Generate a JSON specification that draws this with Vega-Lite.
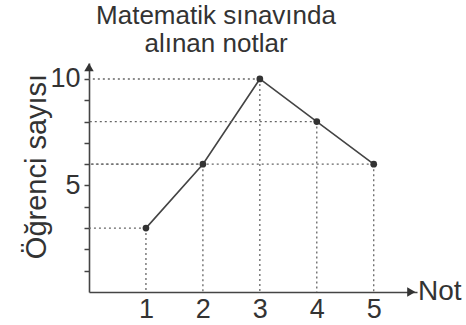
{
  "$schema": "https://vega.github.io/schema/vega-lite/v6.json",
  "autosize": {"type": "none"},
  "width": 328,
  "height": 229,
  "padding": {"left": 89, "top": 63, "right": 49, "bottom": 33},
  "background": "white",
  "config": {
    "font": "Liberation Sans",
    "view": {"stroke": null}
  },
  "title": {
    "text": ["Matematik sınavında", "alınan notlar"],
    "fontSize": 26,
    "fontWeight": "normal",
    "color": "#333333",
    "anchor": "middle",
    "dx": -37,
    "lineHeight": 28,
    "offset": 6
  },
  "data": {
    "values": [
      {"not": 1, "count": 3},
      {"not": 2, "count": 6},
      {"not": 3, "count": 10},
      {"not": 4, "count": 8},
      {"not": 5, "count": 6}
    ]
  },
  "layer": [
    {
      "mark": {"type": "line", "color": "#444444", "strokeWidth": 1.6},
      "encoding": {
        "x": {"field": "not", "type": "quantitative",
          "scale": {"domain": [0, 5.76], "nice": false, "zero": false},
          "axis": {
            "values": [1, 2, 3, 4, 5],
            "tickCount": 20,
            "format": "d",
            "ticks": false,
            "grid": false,
            "domainColor": "#444444",
            "domainWidth": 1.6,
            "labelFontSize": 27,
            "labelColor": "#333333",
            "labelPadding": 4,
            "labelOverlap": false,
            "labelFlush": false,
            "title": null
          }
        },
        "y": {"field": "count", "type": "quantitative",
          "scale": {"domain": [0, 10.75], "nice": false, "zero": false},
          "axis": {
            "values": [1, 2, 3, 4, 5, 6, 7, 8, 9, 10],
            "tickCount": 20,
            "format": "d",
            "labelExpr": "datum.value == 5 || datum.value == 10 ? datum.label : ''",
            "grid": false,
            "tickSize": 5,
            "tickColor": "#444444",
            "tickWidth": 1.5,
            "domainColor": "#444444",
            "domainWidth": 1.6,
            "labelFontSize": 27,
            "labelColor": "#333333",
            "labelPadding": 4,
            "labelBaseline": "middle",
            "labelOverlap": false,
            "labelFlush": false,
            "labelBound": false,
            "title": "Öğrenci sayısı",
            "titleFontSize": 29,
            "titleFontWeight": "normal",
            "titleColor": "#333333",
            "titleAngle": -90,
            "titleBaseline": "alphabetic",
            "titleX": -44,
            "titleY": 103,
            "titleAlign": "center"
          }
        }
      }
    },
    {
      "mark": {"type": "rule", "strokeDash": [2, 3], "color": "#666666", "strokeWidth": 1.3},
      "encoding": {
        "x": {"field": "not", "type": "quantitative"},
        "x2": {"datum": 0},
        "y": {"field": "count", "type": "quantitative"}
      }
    },
    {
      "mark": {"type": "rule", "strokeDash": [2, 3], "color": "#666666", "strokeWidth": 1.3},
      "encoding": {
        "x": {"field": "not", "type": "quantitative"},
        "y": {"field": "count", "type": "quantitative"},
        "y2": {"datum": 0}
      }
    },
    {
      "mark": {"type": "point", "filled": true, "color": "#333333", "size": 45, "opacity": 1},
      "encoding": {
        "x": {"field": "not", "type": "quantitative"},
        "y": {"field": "count", "type": "quantitative"}
      }
    },
    {
      "data": {"values": [{}]},
      "mark": {"type": "point", "shape": "triangle-right", "filled": true, "color": "#333333", "size": 90, "opacity": 1},
      "encoding": {
        "x": {"datum": 5.66, "type": "quantitative"},
        "y": {"datum": 0, "type": "quantitative"}
      }
    },
    {
      "data": {"values": [{}]},
      "mark": {"type": "point", "shape": "triangle-up", "filled": true, "color": "#333333", "size": 90, "opacity": 1},
      "encoding": {
        "x": {"datum": 0, "type": "quantitative"},
        "y": {"datum": 10.55, "type": "quantitative"}
      }
    },
    {
      "data": {"values": [{}]},
      "mark": {"type": "text", "align": "left", "baseline": "middle", "fontSize": 28, "color": "#333333", "dx": 1},
      "encoding": {
        "x": {"datum": 5.76, "type": "quantitative"},
        "y": {"datum": 0, "type": "quantitative"},
        "text": {"value": "Not"}
      }
    }
  ]
}
